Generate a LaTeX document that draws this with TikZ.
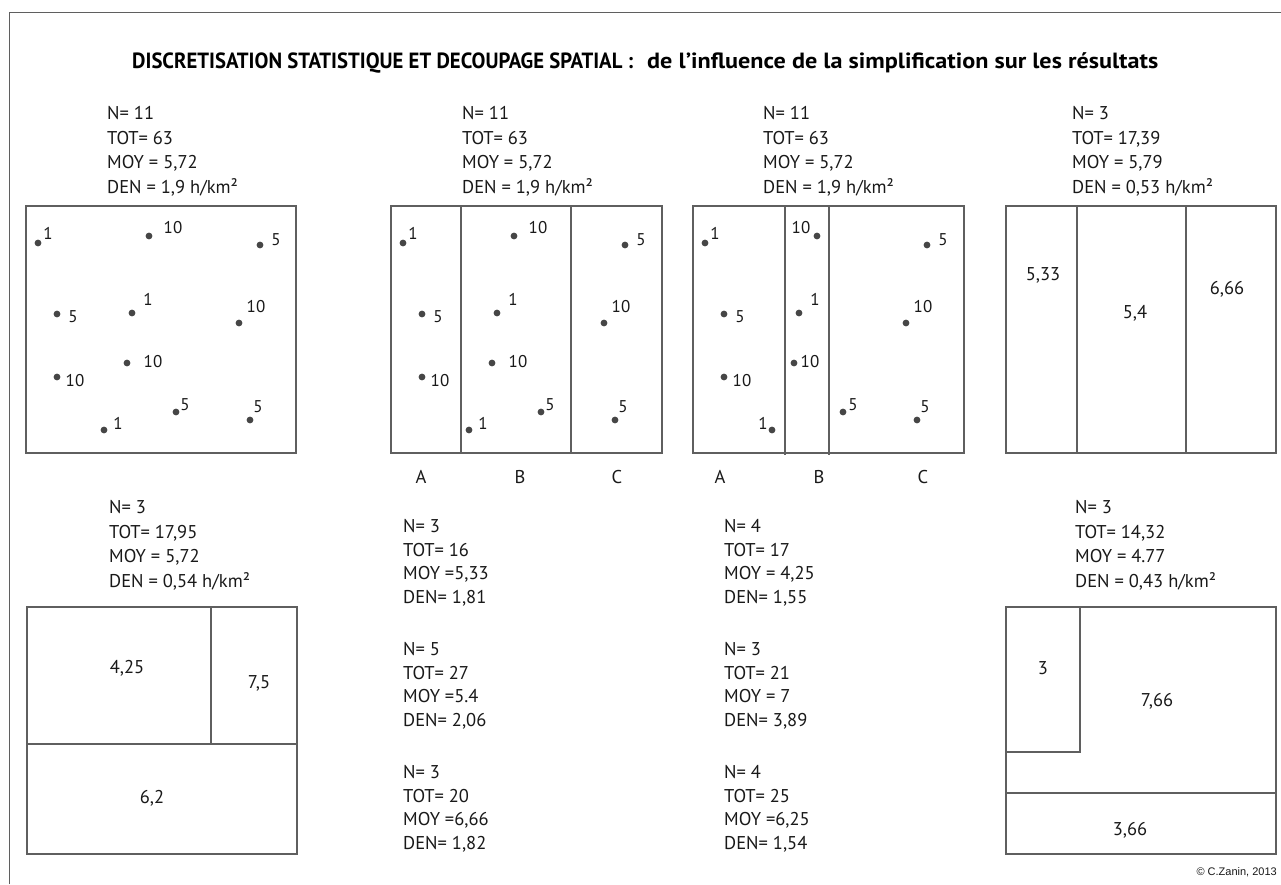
\documentclass[tikz,border=0pt]{standalone}
\usepackage{fontspec}
\setmainfont{PT Sans}
\newfontfamily\arialfont{Liberation Sans}
\usepackage{graphicx}
\usetikzlibrary{positioning}
\definecolor{trait}{RGB}{95,95,95}
\definecolor{point}{RGB}{70,70,70}
\definecolor{texte}{RGB}{25,25,25}

% semis de points : x/y/valeur/dx/dy (depuis le coin haut gauche du carreau)
\def\semis{12/37/1/10/-10, 123/30/10/24/-8, 234/39/5/16/-5, 31/108/5/16/3,
  106/107/1/16/-14, 213/117/10/17/-16, 101/157/10/26/-1, 31/171/10/18/4,
  150/206/5/9/-7, 224/214/5/8/-13, 78/224/1/14/-7}
\def\semisbis{12/37/1/10/-10, 124/30/10/-16/-8, 234/39/5/16/-5, 31/108/5/16/3,
  106/107/1/16/-14, 213/117/10/17/-16, 101/157/10/16/-1, 31/171/10/18/4,
  150/206/5/10/-7, 224/214/5/8/-13, 79/224/1/-9/-7}

\newcommand{\poser}[2]{%
  \foreach \px/\py/\v/\dx/\dy [count=\i] in #2 {
    \fill[point] (\px,\py) circle (3.4pt);
    \node[val] (#1-\i) at (\px+\dx,\py+\dy) {\v};
  }}

\begin{document}
\begin{tikzpicture}[x=1pt,y=-1pt,
    cadre/.style={draw=trait,line width=1.5pt},
    stat/.style={anchor=north west,inner sep=0pt,align=left,text=texte,
                 font=\fontsize{18.5}{24.7}\selectfont},
    statb/.style={stat,font=\fontsize{18.5}{23.7}\selectfont},
    val/.style={inner sep=0pt,text=texte,font=\fontsize{17}{17}\selectfont},
    zone/.style={inner sep=0pt,text=texte,font=\fontsize{18.5}{19}\selectfont}]
  \useasboundingbox (0,0) rectangle (1281,884);
  \fill[white] (0,0) rectangle (1281,884);
  \draw[trait,line width=1pt] (9.5,884) -- (9.5,12.5) -- (1281,12.5);

  \node[anchor=base west,inner sep=0pt,text=black,font=\fontsize{22}{24}\selectfont\bfseries]
    (titre) at (132,68)
    {\resizebox{501pt}{\height}{DISCRETISATION STATISTIQUE ET DECOUPAGE SPATIAL :}\hspace{14pt}%
     \resizebox{511pt}{\height}{de l’influence de la simplification sur les résultats}};

  % ligne du haut
  \node[stat] (s1) at (107,106) {N= 11\\TOT= 63\\MOY = 5,72\\DEN = 1,9 h/km²};
  \node[stat] (s2) at (462,106) {N= 11\\TOT= 63\\MOY = 5,72\\DEN = 1,9 h/km²};
  \node[stat] (s3) at (763,106) {N= 11\\TOT= 63\\MOY = 5,72\\DEN = 1,9 h/km²};
  \node[stat] (s4) at (1072,106) {N= 3\\TOT= 17,39\\MOY = 5,79\\DEN = 0,53 h/km²};

  \draw[cadre] (26,206) rectangle (296,453);
  \begin{scope}[shift={(26,206)}]
    \poser{p1}{\semis}
  \end{scope}

  \draw[cadre] (391,206) rectangle (662,453);
  \draw[cadre] (461,206) -- (461,453) (571,206) -- (571,453);
  \begin{scope}[shift={(391,206)}]
    \poser{p2}{\semis}
  \end{scope}
  \node[zone] (a2) at (421,477) {A};
  \node[zone] (b2) at (520,477) {B};
  \node[zone] (c2) at (617,477) {C};

  \draw[cadre] (693,206) rectangle (964,453);
  \draw[cadre] (785,206) -- (785,455) (829,206) -- (829,455);
  \begin{scope}[shift={(693,206)}]
    \poser{p3}{\semisbis}
  \end{scope}
  \node[zone] (a3) at (720,477) {A};
  \node[zone] (b3) at (819,477) {B};
  \node[zone] (c3) at (923,477) {C};

  \draw[cadre] (1006,206) rectangle (1276,453);
  \draw[cadre] (1077,206) -- (1077,453) (1186,206) -- (1186,453);
  \node[zone] (z41) at (1043,275) {5,33};
  \node[zone] (z42) at (1135,313) {5,4};
  \node[zone] (z43) at (1227,289) {6,66};

  % ligne du bas
  \node[stat] (s5) at (109,500) {N= 3\\TOT= 17,95\\MOY = 5,72\\DEN = 0,54 h/km²};
  \draw[cadre] (27,607) rectangle (297,854);
  \draw[cadre] (27,744) -- (297,744) (211,607) -- (211,744);
  \node[zone] (z51) at (127,668) {4,25};
  \node[zone] (z52) at (259,683) {7,5};
  \node[zone] (z53) at (152,798) {6,2};

  \node[statb] (sA2) at (403,519) {N= 3\\TOT= 16\\MOY =5,33\\DEN= 1,81};
  \node[statb] (sB2) at (403,642) {N= 5\\TOT= 27\\MOY =5.4\\DEN= 2,06};
  \node[statb] (sC2) at (403,765) {N= 3\\TOT= 20\\MOY =6,66\\DEN= 1,82};

  \node[statb] (sA3) at (724,519) {N= 4\\TOT= 17\\MOY = 4,25\\DEN= 1,55};
  \node[statb] (sB3) at (724,642) {N= 3\\TOT= 21\\MOY = 7\\DEN= 3,89};
  \node[statb] (sC3) at (724,765) {N= 4\\TOT= 25\\MOY =6,25\\DEN= 1,54};

  \node[stat] (s6) at (1075,500) {N= 3\\TOT= 14,32\\MOY = 4.77\\DEN = 0,43 h/km²};
  \draw[cadre] (1006,607) rectangle (1276,854);
  \draw[cadre] (1006,793) -- (1276,793) (1006,752) -- (1080,752) -- (1080,607);
  \node[zone] (z61) at (1043,668) {3};
  \node[zone] (z62) at (1157,701) {7,66};
  \node[zone] (z63) at (1130,830) {3,66};

  \node[anchor=base east,inner sep=0pt,text=texte,font=\arialfont\fontsize{11}{11}\selectfont]
    (credit) at (1277,875) {© C.Zanin, 2013};
\end{tikzpicture}
\end{document}
